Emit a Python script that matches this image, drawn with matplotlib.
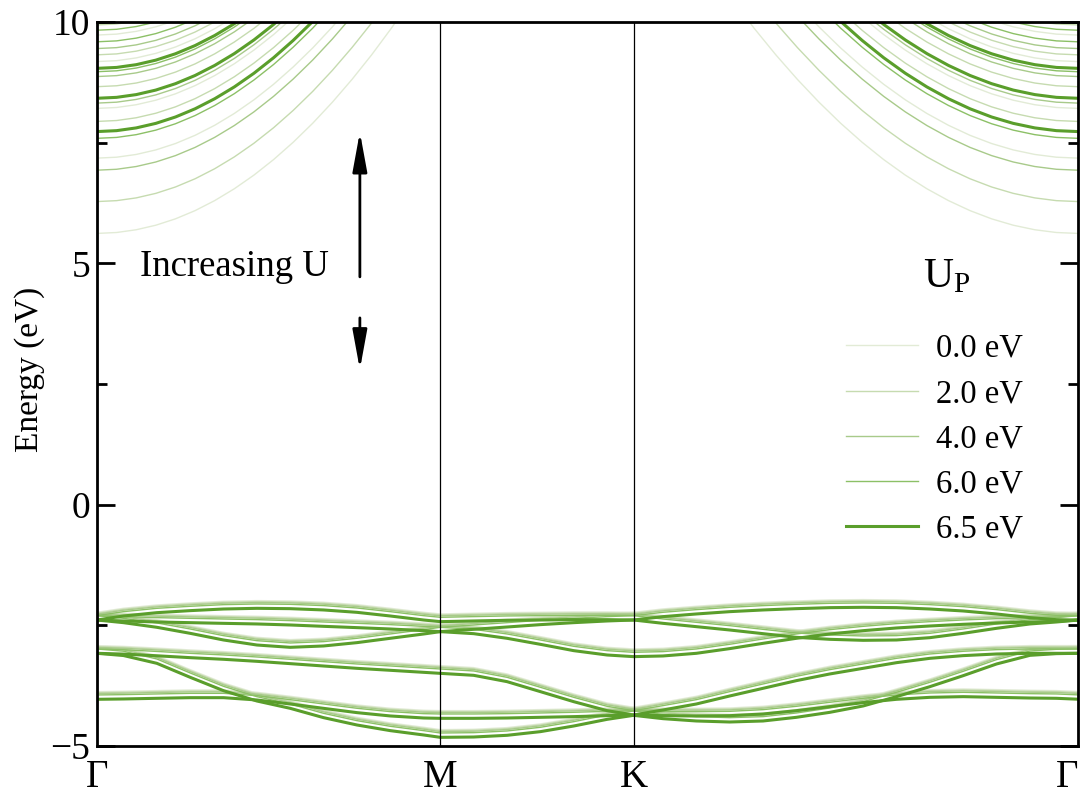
import numpy as np
import matplotlib.pyplot as plt
from matplotlib.lines import Line2D

plt.rcParams['font.family'] = ['Liberation Serif', 'DejaVu Serif']
plt.rcParams['mathtext.fontset'] = 'custom'
plt.rcParams['mathtext.rm'] = 'Liberation Serif'

# --- data ---
u_values = [0.0, 2.0, 4.0, 6.0, 6.5]
u_labels = ['0.0 eV', '2.0 eV', '4.0 eV', '6.0 eV', '6.5 eV']
u_colors = ['#e2ebd6', '#c6dbb0', '#a8ca8a', '#8cc066', '#5a9e2b']

# high-symmetry points along the path (normalised path length)
k_ticks = [0.0, 0.350, 0.547, 1.0]
k_names = ['Γ', 'M', 'K', 'Γ']

k_GM = [0.000, 0.027, 0.061, 0.095, 0.129, 0.163, 0.197, 0.231, 0.265, 0.299, 0.333, 0.350]
k_MK = [0.350, 0.384, 0.418, 0.452, 0.486, 0.520, 0.547]
k_KG = [0.547, 0.577, 0.611, 0.645, 0.679, 0.713, 0.747, 0.781, 0.815, 0.849, 0.883, 0.917, 0.951, 0.978, 1.000]

# valence bands for U_P = 6.5 eV (eV), per segment G-M / M-K / K-G
vb_a = [[-2.389, -2.306, -2.237, -2.195, -2.161, -2.147, -2.154, -2.181, -2.230, -2.306, -2.389, -2.423],
        [-2.423, -2.409, -2.395, -2.389, -2.382, -2.382, -2.389],
        [-2.389, -2.319, -2.264, -2.216, -2.181, -2.154, -2.133, -2.126, -2.133, -2.161, -2.202, -2.264, -2.340, -2.382, -2.390]]
vb_b = [[-2.389, -2.409, -2.430, -2.444, -2.458, -2.471, -2.492, -2.520, -2.547, -2.575, -2.610, -2.630],
        [-2.630, -2.582, -2.534, -2.485, -2.444, -2.409, -2.389],
        [-2.389, -2.458, -2.527, -2.596, -2.672, -2.748, -2.789, -2.810, -2.803, -2.755, -2.665, -2.561, -2.471, -2.430, -2.390]]
vb_c = [[-2.389, -2.444, -2.540, -2.665, -2.803, -2.907, -2.955, -2.927, -2.858, -2.768, -2.679, -2.630],
        [-2.630, -2.672, -2.768, -2.893, -3.024, -3.114, -3.148],
        [-3.148, -3.134, -3.079, -2.982, -2.872, -2.768, -2.679, -2.610, -2.554, -2.513, -2.478, -2.451, -2.430, -2.416, -2.390]]
vb_d = [[-3.079, -3.095, -3.130, -3.169, -3.203, -3.245, -3.293, -3.342, -3.390, -3.431, -3.473, -3.494],
        [-3.494, -3.535, -3.666, -3.873, -4.081, -4.267, -4.357],
        [-4.357, -4.253, -4.129, -3.963, -3.804, -3.645, -3.507, -3.390, -3.273, -3.183, -3.127, -3.093, -3.079, -3.079, -3.079]]
vb_e = [[-3.079, -3.125, -3.286, -3.576, -3.853, -4.067, -4.219, -4.412, -4.564, -4.681, -4.771, -4.820],
        [-4.820, -4.813, -4.778, -4.702, -4.585, -4.447, -4.364],
        [-4.364, -4.433, -4.481, -4.502, -4.481, -4.405, -4.302, -4.170, -3.977, -3.770, -3.542, -3.300, -3.121, -3.086, -3.079]]
vb_f = [[-4.032, -4.025, -4.011, -3.998, -3.998, -4.046, -4.129, -4.219, -4.308, -4.377, -4.419, -4.426],
        [-4.426, -4.426, -4.419, -4.405, -4.391, -4.371, -4.357],
        [-4.357, -4.371, -4.378, -4.371, -4.336, -4.267, -4.184, -4.101, -4.032, -3.991, -3.977, -3.991, -4.005, -4.011, -4.030]]
valence = [vb_a, vb_b, vb_c, vb_d, vb_e, vb_f]

# upward shift of the valence bands for the smaller U_P values (eV)
vb_shift = {0.0: 0.16, 2.0: 0.14, 4.0: 0.12, 6.0: 0.09, 6.5: 0.0}

# conduction bands: energy at Gamma for each U_P (eV)
cb_gamma = {0.0: [5.62, 7.18, 8.21, 9.18, 9.73],
            2.0: [6.28, 7.94, 8.66, 9.32, 9.94],
            4.0: [6.93, 8.32, 8.87, 9.45],
            6.0: [7.59, 8.97, 9.59, 9.83],
            6.5: [7.73, 8.42, 9.04]}
# rise of a conduction band above its Gamma value vs. distance from Gamma
cb_q = [0.00, 0.02, 0.04, 0.06, 0.08, 0.10, 0.12, 0.14, 0.16, 0.18, 0.20, 0.22,
        0.24, 0.26, 0.28, 0.30, 0.32, 0.34, 0.36, 0.38, 0.40, 0.42, 0.44]
cb_rise = [0.000, 0.019, 0.076, 0.170, 0.302, 0.472, 0.680, 0.925, 1.208, 1.529, 1.888, 2.284,
           2.719, 3.191, 3.700, 4.248, 4.833, 5.456, 6.117, 6.816, 7.552, 8.326, 9.138]
kg_stretch = 1.10   # K-Gamma side is drawn wider than Gamma-M

k_path = np.concatenate([k_GM, k_MK[1:], k_KG[1:]])
cb_q = np.array(cb_q)
cb_rise = np.array(cb_rise)

fig = plt.figure(figsize=(10.81, 8.06), dpi=100)
ax = fig.add_axes([0.0897, 0.0744, 0.9075, 0.8983])

for u, col in zip(u_values, u_colors):
    lw = 2.2 if u == 6.5 else 1.0
    for band in valence:
        e = np.concatenate([band[0], band[1][1:], band[2][1:]]) + vb_shift[u]
        ax.plot(k_path, e, color=col, lw=lw, solid_joinstyle='round')
    for e0 in cb_gamma[u]:
        ax.plot(cb_q, e0 + cb_rise, color=col, lw=lw)
        ax.plot(1.0 - cb_q * kg_stretch, e0 + cb_rise, color=col, lw=lw)

for kx in k_ticks[1:3]:
    ax.axvline(kx, color='k', lw=0.9)

ax.set_xlim(0, 1)
ax.set_ylim(-5, 10)
ax.set_xticks(k_ticks, k_names)
ax.tick_params(axis='x', length=0, pad=9, labelsize=28)
ax.get_xticklabels()[-1].set_horizontalalignment('right')
ax.set_yticks([-5, 0, 5, 10], ['−5', '0', '5', '10'])
ax.set_yticks([-2.5, 2.5, 7.5], minor=True)
ax.tick_params(axis='y', which='both', direction='in', left=True, right=True, width=2, labelsize=27)
ax.tick_params(axis='y', which='major', length=13, pad=5)
ax.tick_params(axis='y', which='minor', length=7)
ax.set_ylabel('Energy (eV)', fontsize=24)
ax.yaxis.set_label_coords(-0.053, 0.52)
for s in ax.spines.values():
    s.set_linewidth(2)

arrow_style = dict(arrowstyle='-|>,head_width=0.22,head_length=1.2', color='k', lw=2,
                   mutation_scale=20, shrinkA=0, shrinkB=0)
ax.annotate('', xy=(0.268, 7.72), xytext=(0.268, 4.72), arrowprops=arrow_style)
ax.annotate('', xy=(0.268, 2.80), xytext=(0.268, 3.87), arrowprops=arrow_style)
ax.text(0.044, 4.92, 'Increasing U', fontsize=26.5, ha='left', va='center')

ax.text(0.866, 4.72, '$\\mathregular{U_P}$', fontsize=30, ha='center', va='center')
handles = [Line2D([], [], color=c, lw=(2.2 if u == 6.5 else 1.0)) for u, c in zip(u_values, u_colors)]
ax.legend(handles, u_labels, fontsize=23.5,
          frameon=False, loc='upper right', bbox_to_anchor=(0.944, 0.570), borderaxespad=0, borderpad=0,
          handlelength=2.2, handletextpad=0.55, labelspacing=0.45)

fig.savefig('out.png', dpi=100)
